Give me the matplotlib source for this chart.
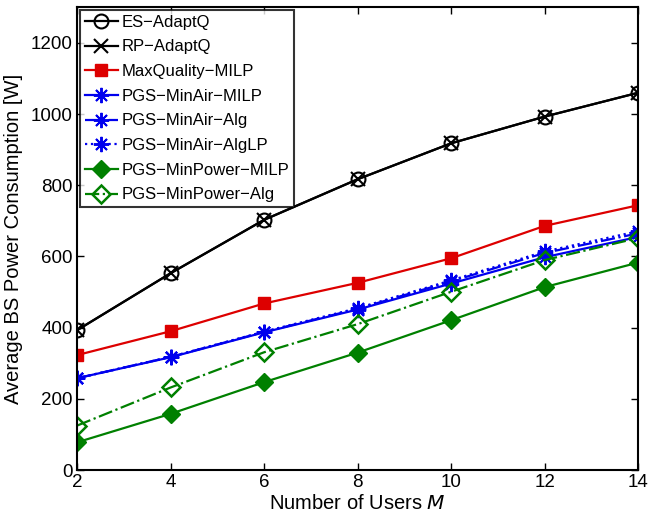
import matplotlib
matplotlib.use("Agg")
import matplotlib.pyplot as plt

plt.rcParams['font.family'] = ['Liberation Sans', 'DejaVu Sans']

users = [2, 4, 6, 8, 10, 12, 14]
es_adaptq = [393, 553, 703, 817, 918, 993, 1060]
rp_adaptq = [393, 553, 703, 817, 918, 993, 1060]
maxquality_milp = [323, 390, 468, 526, 595, 686, 744]
minair_milp = [258, 317, 387, 451, 524, 598, 655]
minair_alg = [258, 318, 388, 453, 530, 610, 665]
minair_alglp = [258, 318, 389, 455, 533, 614, 671]
minpower_milp = [78, 158, 247, 330, 421, 514, 583]
minpower_alg = [125, 232, 331, 410, 501, 590, 652]

fig = plt.figure(figsize=(6.48, 5.2), dpi=100)
ax = fig.add_axes([0.119, 0.096, 0.866, 0.890])

lw = 1.6
ast = (8, 2, 0)
ax.plot(users, es_adaptq, '-', color='black', lw=lw, marker='o', ms=10, mfc='none', mew=1.5, label='ES\u2212AdaptQ')
ax.plot(users, rp_adaptq, '-', color='black', lw=lw, marker='x', ms=10, mew=1.5, label='RP\u2212AdaptQ')
ax.plot(users, maxquality_milp, '-', color='#dd0000', lw=lw, marker='s', ms=8.5, mfc='#dd0000', mec='#dd0000', label='MaxQuality\u2212MILP')
ax.plot(users, minair_milp, '-', color='#0000ee', lw=lw, marker=ast, ms=11, mew=1.4, label='PGS\u2212MinAir\u2212MILP')
ax.plot(users, minair_alg, '-.', color='#0000ee', lw=lw, marker=ast, ms=11, mew=1.4, label='PGS\u2212MinAir\u2212Alg')
ax.plot(users, minair_alglp, ':', color='#0000ee', lw=lw, marker=ast, ms=11, mew=1.4, label='PGS\u2212MinAir\u2212AlgLP')
ax.plot(users, minpower_milp, '-', color='#008000', lw=lw, marker='D', ms=9, mfc='#008000', mec='#008000', label='PGS\u2212MinPower\u2212MILP')
ax.plot(users, minpower_alg, '-.', color='#008000', lw=lw, marker='D', ms=9, mfc='none', mec='#008000', mew=1.8, label='PGS\u2212MinPower\u2212Alg')

ax.set_xlim(2, 14)
ax.set_ylim(0, 1300)
ax.set_xticks(users)
ax.set_yticks([0, 200, 400, 600, 800, 1000, 1200])
ax.tick_params(direction='in', top=True, right=True, labelsize=13.5, length=5, width=1, pad=3)
for s in ax.spines.values():
    s.set_linewidth(1.5)
ax.set_xlabel('Number of Users $\\mathit{M}$', fontsize=14.5, labelpad=2)
ax.set_ylabel('Average BS Power Consumption [W]', fontsize=14.5, labelpad=6)

leg = ax.legend(loc='upper left', fontsize=12, frameon=True, fancybox=False,
                edgecolor='black', borderpad=0.3, labelspacing=0.58,
                handlelength=2.0, handletextpad=0.2, borderaxespad=0.15)
leg.get_frame().set_linewidth(1.5)

fig.savefig('out.png', dpi=100)
